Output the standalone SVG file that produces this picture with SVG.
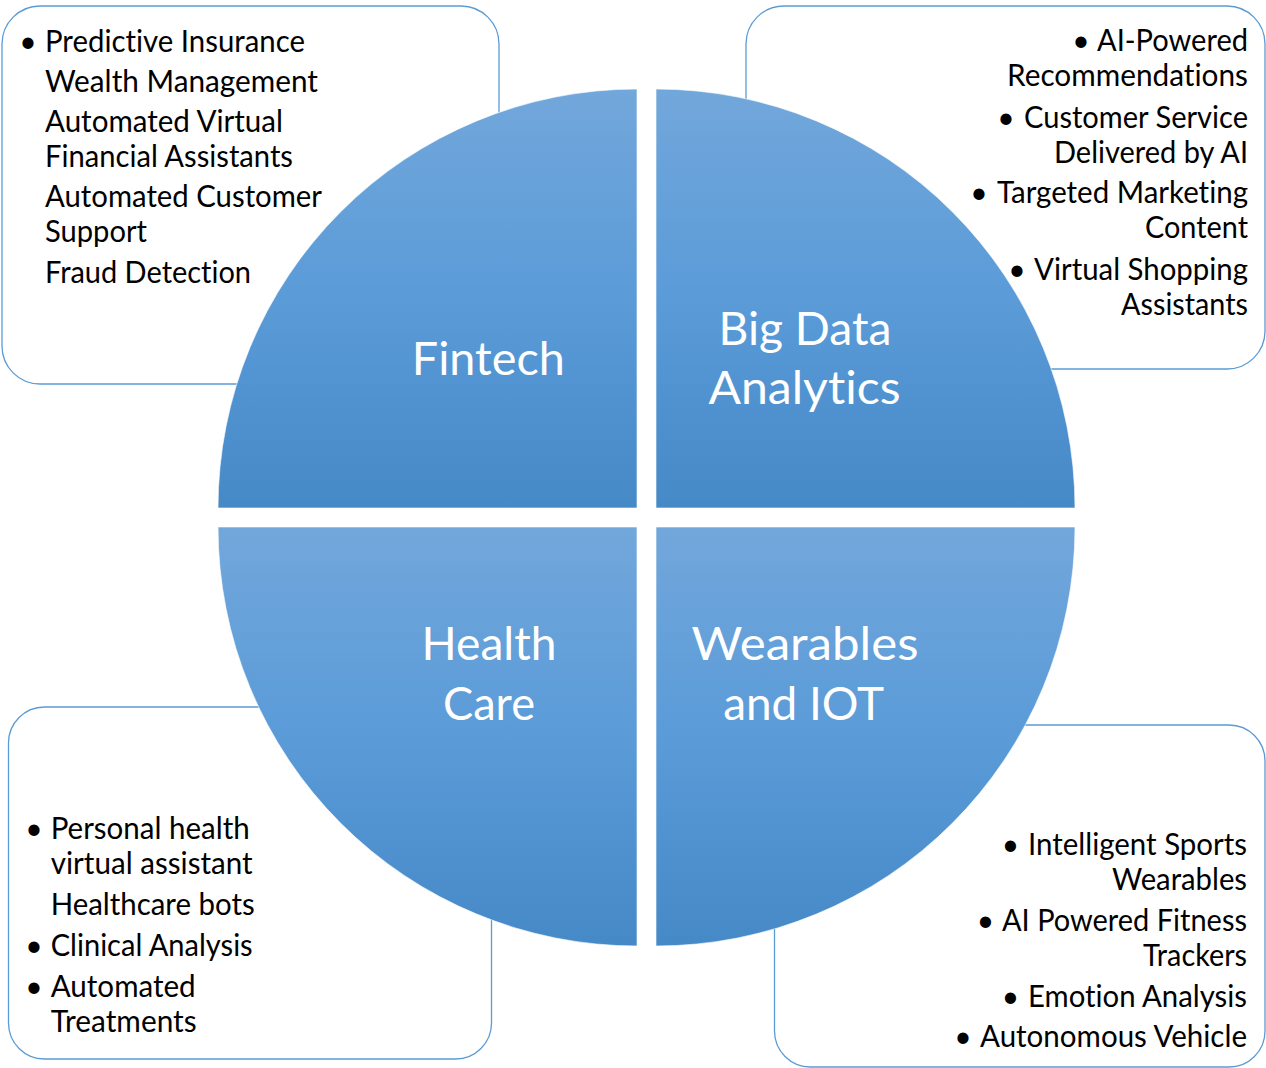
<svg xmlns="http://www.w3.org/2000/svg" width="1266" height="1068" viewBox="0 0 1266 1068">
  <defs>
    <linearGradient id="qgrad" x1="0" y1="0" x2="0" y2="1">
      <stop offset="0" stop-color="#72A7DB"/>
      <stop offset="0.5" stop-color="#5A9BD8"/>
      <stop offset="1" stop-color="#4689C7"/>
    </linearGradient>
  </defs>
  <style>
    .box { fill: #FFFFFF; stroke: #5B9BD5; stroke-width: 1.3; }
    .quad { fill: url(#qgrad); stroke: #FFFFFF; stroke-opacity: 0.6; stroke-width: 1; }
    .item { font-family: Lato, "Liberation Sans", sans-serif; font-size: 30px; fill: #000000; font-variant-ligatures: none; }
    .r { text-anchor: end; }
    .bul { font-family: Lato, "Liberation Sans", sans-serif; font-size: 30px; fill: #000000; text-anchor: middle; }
    .label { font-family: Lato, "Liberation Sans", sans-serif; font-size: 46px; fill: #FFFFFF; text-anchor: middle; font-variant-ligatures: none; }
  </style>
  <rect width="1266" height="1068" fill="#FFFFFF"/>

  <g id="box-fintech">
    <rect class="box" x="2" y="6" width="497" height="378" rx="38" ry="38"/>
    <text class="bul" x="28" y="52">•</text>
    <text class="item" x="45" y="52" textLength="260" lengthAdjust="spacingAndGlyphs">Predictive Insurance</text>
    <text class="item" x="45" y="92" textLength="273" lengthAdjust="spacingAndGlyphs">Wealth Management</text>
    <text class="item" x="45" y="132" textLength="238" lengthAdjust="spacingAndGlyphs">Automated Virtual</text>
    <text class="item" x="45" y="167" textLength="248" lengthAdjust="spacingAndGlyphs">Financial Assistants</text>
    <text class="item" x="45" y="207" textLength="277" lengthAdjust="spacingAndGlyphs">Automated Customer</text>
    <text class="item" x="45" y="242" textLength="102" lengthAdjust="spacingAndGlyphs">Support</text>
    <text class="item" x="45" y="283" textLength="206" lengthAdjust="spacingAndGlyphs">Fraud Detection</text>
  </g>

  <g id="box-bigdata">
    <rect class="box" x="746" y="6" width="519" height="363" rx="38" ry="38"/>
    <text class="bul" x="1081" y="51">•</text>
    <text class="item r" x="1248" y="51" textLength="151" lengthAdjust="spacingAndGlyphs">AI-Powered</text>
    <text class="item r" x="1248" y="86" textLength="241" lengthAdjust="spacingAndGlyphs">Recommendations</text>
    <text class="bul" x="1006" y="127.5">•</text>
    <text class="item r" x="1248" y="127.5" textLength="224" lengthAdjust="spacingAndGlyphs">Customer Service</text>
    <text class="item r" x="1248" y="162.5" textLength="194" lengthAdjust="spacingAndGlyphs">Delivered by AI</text>
    <text class="bul" x="979" y="203">•</text>
    <text class="item r" x="1248" y="203" textLength="251" lengthAdjust="spacingAndGlyphs">Targeted Marketing</text>
    <text class="item r" x="1248" y="238" textLength="103" lengthAdjust="spacingAndGlyphs">Content</text>
    <text class="bul" x="1017" y="279.5">•</text>
    <text class="item r" x="1248" y="279.5" textLength="214" lengthAdjust="spacingAndGlyphs">Virtual Shopping</text>
    <text class="item r" x="1248" y="315" textLength="127" lengthAdjust="spacingAndGlyphs">Assistants</text>
  </g>

  <g id="box-healthcare">
    <rect class="box" x="8.5" y="707" width="483" height="352" rx="36" ry="36"/>
    <text class="bul" x="34" y="838.5">•</text>
    <text class="item" x="50.7" y="838.5" textLength="199" lengthAdjust="spacingAndGlyphs">Personal health</text>
    <text class="item" x="50.7" y="873.5" textLength="202" lengthAdjust="spacingAndGlyphs">virtual assistant</text>
    <text class="item" x="50.7" y="914.5" textLength="204" lengthAdjust="spacingAndGlyphs">Healthcare bots</text>
    <text class="bul" x="34" y="955.5">•</text>
    <text class="item" x="50.7" y="955.5" textLength="202" lengthAdjust="spacingAndGlyphs">Clinical Analysis</text>
    <text class="bul" x="34" y="996.5">•</text>
    <text class="item" x="50.7" y="996.5" textLength="145" lengthAdjust="spacingAndGlyphs">Automated</text>
    <text class="item" x="50.7" y="1031.5" textLength="146" lengthAdjust="spacingAndGlyphs">Treatments</text>
  </g>

  <g id="box-wearables">
    <rect class="box" x="774.5" y="725" width="490.5" height="342" rx="36" ry="36"/>
    <text class="bul" x="1010.5" y="855">•</text>
    <text class="item r" x="1247" y="855" textLength="219" lengthAdjust="spacingAndGlyphs">Intelligent Sports</text>
    <text class="item r" x="1247" y="889.5" textLength="135" lengthAdjust="spacingAndGlyphs">Wearables</text>
    <text class="bul" x="985.5" y="931">•</text>
    <text class="item r" x="1247" y="931" textLength="245" lengthAdjust="spacingAndGlyphs">AI Powered Fitness</text>
    <text class="item r" x="1247" y="966" textLength="104" lengthAdjust="spacingAndGlyphs">Trackers</text>
    <text class="bul" x="1010.5" y="1006.5">•</text>
    <text class="item r" x="1247" y="1006.5" textLength="219" lengthAdjust="spacingAndGlyphs">Emotion Analysis</text>
    <text class="bul" x="963" y="1046.5">•</text>
    <text class="item r" x="1247" y="1046.5" textLength="267" lengthAdjust="spacingAndGlyphs">Autonomous Vehicle</text>
  </g>

  <g id="quad-fintech">
    <path class="quad" d="M637,508 L218,508 A419,419 0 0 1 637,89 Z"/>
    <text class="label" x="488.3" y="375" textLength="153" lengthAdjust="spacingAndGlyphs">Fintech</text>
  </g>
  <g id="quad-bigdata">
    <path class="quad" d="M656,508 L656,89 A419,419 0 0 1 1075,508 Z"/>
    <text class="label" x="805" y="345" textLength="173" lengthAdjust="spacingAndGlyphs">Big Data</text>
    <text class="label" x="804.5" y="403.5" textLength="192" lengthAdjust="spacingAndGlyphs">Analytics</text>
  </g>
  <g id="quad-healthcare">
    <path class="quad" d="M637,527 L637,946 A419,419 0 0 1 218,527 Z"/>
    <text class="label" x="489" y="660" textLength="135" lengthAdjust="spacingAndGlyphs">Health</text>
    <text class="label" x="489" y="719.5" textLength="92" lengthAdjust="spacingAndGlyphs">Care</text>
  </g>
  <g id="quad-wearables">
    <path class="quad" d="M656,527 L1075,527 A419,419 0 0 1 656,946 Z"/>
    <text class="label" x="805" y="660" textLength="227" lengthAdjust="spacingAndGlyphs">Wearables</text>
    <text class="label" x="803.7" y="719.5" textLength="161" lengthAdjust="spacingAndGlyphs">and IOT</text>
  </g>

  <g id="connectors"></g>
</svg>
